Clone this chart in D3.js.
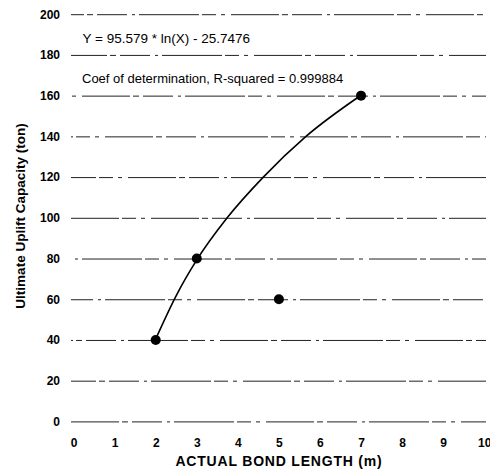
<!DOCTYPE html>
<html>
<head>
<meta charset="utf-8">
<script src="https://cdn.jsdelivr.net/npm/d3@7"></script>
<style>
  body { margin: 0; background: #fff; }
  svg { font-family: "Liberation Sans", Arial, Helvetica, sans-serif; }
</style>
</head>
<body>
<div id="chart"></div>
<script>
// measured points (bond length m, uplift capacity ton)
var bondLength = [2, 3, 5, 7];
var capacity = [40, 80, 60, 160];

// fitted log curve
var curveX = [2, 2.5, 3, 3.74, 4.62, 5.66, 7];
var curveY = [40.5, 61.8, 79.3, 100, 120, 140, 160.2];

var xTicks = [0, 1, 2, 3, 4, 5, 6, 7, 8, 9, 10];
var yTicks = [0, 20, 40, 60, 80, 100, 120, 140, 160, 180, 200];

var eqText = "Y = 95.579 * ln(X) - 25.7476";
var r2Text = "Coef of determination, R-squared = 0.999884";

function init(){
  var w = 490, h = 470;

  var svg = d3.select("#chart")
    .append("svg")
      .attr("width", w)
      .attr("height", h);

  var x = d3.scaleLinear().domain([0, 10]).range([73.6, 484.2]);
  var y = d3.scaleLinear().domain([0, 200]).range([421.4, 14.2]);

  // y axis with the broken-looking grid lines
  var gy = svg.append("g")
    .attr("transform", "translate(71,0)")
    .call(d3.axisLeft(y).tickValues(yTicks).tickSize(-415).tickPadding(11));
  gy.select(".domain").remove();
  gy.selectAll(".tick line")
    .attr("stroke", "#222")
    .attr("stroke-width", 1)
    .attr("stroke-dasharray", "48,3,6,4,30,5,3,4,60,3,14,5,4,6")
    .attr("stroke-dashoffset", function(d, i){ return i * 23; });
  gy.selectAll(".tick text")
    .attr("fill", "#000")
    .style("font-size", "12px")
    .style("font-weight", "bold");

  // x axis, labels only
  var gx = svg.append("g")
    .attr("transform", "translate(0,435)")
    .call(d3.axisBottom(x).tickValues(xTicks).tickSize(0).tickPadding(3));
  gx.select(".domain").remove();
  gx.selectAll(".tick text")
    .attr("fill", "#000")
    .style("font-size", "12px")
    .style("font-weight", "bold");

  // axis titles
  svg.append("text")
    .attr("x", 279)
    .attr("y", 466)
    .attr("text-anchor", "middle")
    .style("font-size", "14px")
    .style("font-weight", "bold")
    .style("letter-spacing", "0.8px")
    .text("ACTUAL BOND LENGTH (m)");

  svg.append("text")
    .attr("transform", "translate(25,216) rotate(-90)")
    .attr("text-anchor", "middle")
    .style("font-size", "13.5px")
    .style("font-weight", "bold")
    .text("Ultimate Uplift Capacity (ton)");

  // equation text
  svg.append("text")
    .attr("x", 82.5)
    .attr("y", 42.5)
    .style("font-size", "13.5px")
    .text(eqText);

  svg.append("text")
    .attr("x", 82)
    .attr("y", 82.5)
    .style("font-size", "13px")
    .text(r2Text);

  // fitted curve
  var curveData = curveX.map(function(d, i){ return [d, curveY[i]]; });
  svg.append("path")
    .datum(curveData)
    .attr("fill", "none")
    .attr("stroke", "#000")
    .attr("stroke-width", 1.6)
    .attr("d", d3.line()
      .x(function(d){ return x(d[0]); })
      .y(function(d){ return y(d[1]); })
      .curve(d3.curveMonotoneX));

  // points
  svg.selectAll("circle.pt")
    .data(bondLength)
    .enter()
    .append("circle")
      .attr("class", "pt")
      .attr("cx", function(d){ return x(d); })
      .attr("cy", function(d, i){ return y(capacity[i]); })
      .attr("r", 5)
      .attr("fill", "#000");
}
window.onload = init;
</script>
</body>
</html>
